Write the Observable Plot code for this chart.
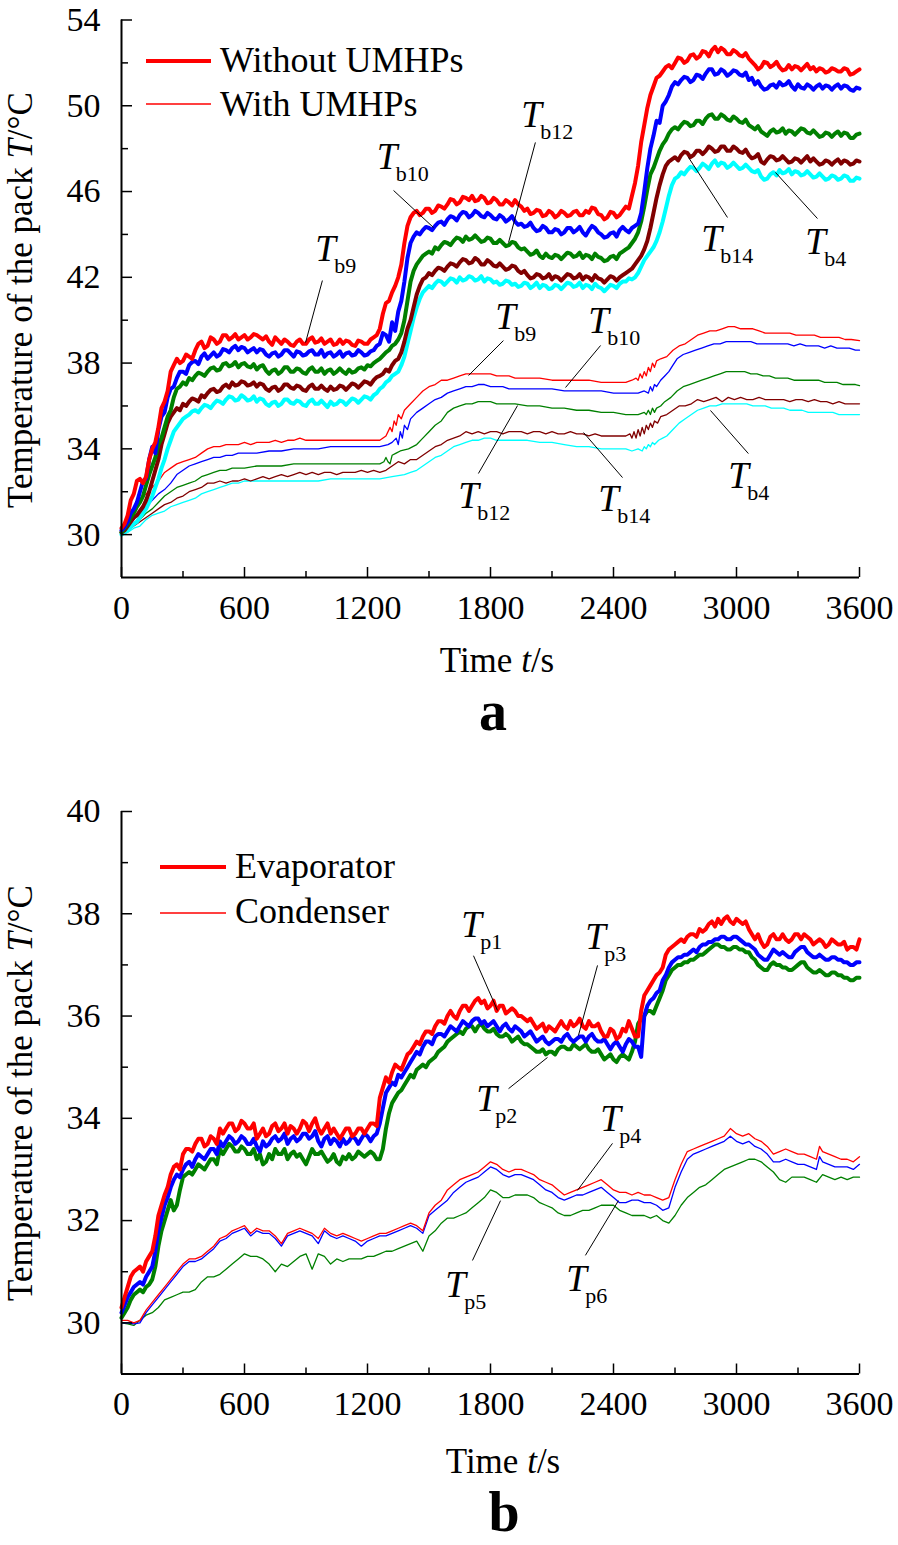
<!DOCTYPE html>
<html>
<head>
<meta charset="utf-8">
<script src="https://cdn.jsdelivr.net/npm/d3@7"></script>
<script src="https://cdn.jsdelivr.net/npm/@observablehq/plot@0.6"></script>
<style>
  body { margin: 0; background: #fff; }
  #root { position: relative; width: 898px; height: 1545px; overflow: hidden; }
  #root > svg { position: absolute; left: 0; }
  #root svg text { font-family: "Liberation Serif", "Times New Roman", Times, serif; }
</style>
</head>
<body>
<div id="root"></div>
<script>
// Thick series are sampled every 15 s (0 ... 3600 s); thin series are [t, T] pairs.
const t15 = d3.range(0, 3601, 15);

// ---------------- Panel a: without UMHPs (thick, 15 s) ----------------
const tb9Without = [30.3,30.5,30.9,31.6,31.9,32.5,32.6,32.4,32.7,33.5,34.0,34.3,35.0,35.9,36.2,36.7,37.6,37.9,38.2,38.0,
38.1,38.4,38.3,38.2,38.6,38.9,39.0,38.7,38.8,39.2,39.1,38.9,39.0,39.3,39.3,39.1,39.2,39.35,39.1,39.2,
39.3,39.1,39.2,39.35,39.3,39.2,39.1,39.25,39.0,38.85,39.2,39.05,38.9,39.1,39.0,38.85,38.8,39.0,39.1,38.9,
38.9,39.1,39.2,38.95,39.0,39.15,38.9,39.0,39.1,38.85,38.9,39.1,38.9,39.05,39.0,38.85,38.8,39.05,39.0,38.9,
38.9,39.1,39.2,39.3,39.6,40.3,40.8,40.9,41.3,41.6,42.0,42.6,43.6,44.4,44.8,45.0,45.1,44.9,45.0,45.2,
45.2,45.0,45.1,45.35,45.3,45.2,45.4,45.65,45.6,45.4,45.5,45.75,45.7,45.6,45.8,45.55,45.6,45.8,45.7,45.45,
45.5,45.7,45.6,45.4,45.4,45.6,45.5,45.35,45.6,45.4,45.3,45.1,45.2,44.95,45.0,45.15,45.1,44.85,44.9,45.1,
45.0,44.8,44.9,45.1,45.0,44.85,44.9,45.05,45.1,44.9,44.9,45.1,45.0,45.25,45.2,44.95,44.9,44.7,44.8,45.05,
45.0,44.8,44.9,45.1,45.3,45.2,45.8,46.4,47.2,48.3,49.1,49.9,50.5,50.9,51.3,51.4,51.6,51.8,51.9,51.75,
52.0,52.25,52.2,52.0,52.1,52.35,52.4,52.2,52.3,52.55,52.5,52.3,52.6,52.75,52.5,52.7,52.6,52.4,52.4,52.6,
52.5,52.35,52.3,52.45,52.2,52.05,51.9,51.7,51.8,52.05,52.0,51.8,51.9,52.05,51.8,51.65,51.7,51.9,51.7,51.85,
51.8,51.65,51.8,51.95,51.7,51.8,51.6,51.75,51.7,51.55,51.6,51.75,51.7,51.6,51.6,51.75,51.7,51.45,51.5,51.6,
51.7];
const tb10Without = [30.2,30.35,30.6,31.0,31.2,31.5,32.0,32.5,32.6,33.5,34.1,33.8,34.9,35.5,35.7,36.4,36.8,36.9,37.3,37.6,
37.6,37.5,37.9,38.05,38.1,37.95,38.3,38.45,38.2,38.35,38.5,38.3,38.4,38.65,38.6,38.5,38.7,38.8,38.6,38.75,
38.7,38.5,38.6,38.7,38.5,38.65,38.6,38.4,38.3,38.45,38.5,38.3,38.4,38.6,38.6,38.45,38.3,38.55,38.5,38.35,
38.4,38.55,38.6,38.4,38.4,38.6,38.3,38.45,38.5,38.3,38.4,38.55,38.3,38.45,38.5,38.35,38.4,38.6,38.5,38.35,
38.4,38.55,38.6,38.8,38.9,39.4,39.3,39.0,39.9,39.5,40.4,40.9,41.8,42.9,43.6,43.9,44.1,44.0,44.2,44.35,
44.3,44.2,44.4,44.55,44.6,44.45,44.7,44.85,44.8,44.65,44.9,45.05,45.0,44.8,44.9,45.1,45.0,44.85,44.8,45.0,
44.9,44.75,44.7,44.9,44.8,44.6,44.7,44.85,44.6,44.45,44.5,44.35,44.4,44.55,44.3,44.15,44.2,44.4,44.3,44.1,
44.1,44.25,44.2,44.0,44.1,44.3,44.3,44.1,44.2,44.35,44.1,43.95,44.2,44.4,44.3,44.1,44.0,43.85,43.9,44.05,
44.1,43.9,44.2,44.35,44.2,44.1,44.3,44.4,44.5,45.0,46.0,47.1,48.0,48.6,49.3,49.2,50.0,50.2,50.5,50.9,
51.1,51.0,51.2,51.35,51.3,51.1,51.2,51.45,51.4,51.25,51.5,51.7,51.7,51.45,51.5,51.7,51.6,51.4,51.5,51.65,
51.6,51.45,51.4,51.55,51.2,51.3,51.0,51.15,50.9,50.75,50.8,50.95,51.0,50.85,51.1,50.95,51.0,51.15,50.9,50.75,
51.0,50.85,50.8,51.0,50.9,50.75,50.9,51.0,50.8,50.95,50.9,50.75,50.9,51.0,50.8,50.95,50.9,50.75,50.7,50.85,
50.8];
const tb12Without = [30.1,30.3,30.5,30.8,31.0,31.3,31.5,31.8,32.3,32.8,33.2,33.6,34.2,34.5,35.0,35.5,35.8,36.4,36.8,36.9,
37.1,37.0,37.3,37.2,37.4,37.55,37.5,37.4,37.6,37.75,37.8,37.65,37.7,37.95,38.0,37.85,37.9,38.05,37.8,37.95,
38.0,37.85,37.8,37.95,37.7,37.85,37.9,37.65,37.5,37.65,37.7,37.5,37.6,37.8,37.8,37.6,37.6,37.75,37.7,37.55,
37.5,37.7,37.8,37.6,37.6,37.75,37.5,37.65,37.7,37.5,37.6,37.75,37.6,37.5,37.7,37.55,37.6,37.75,37.8,37.7,
37.9,37.85,38.0,38.1,38.2,38.35,38.5,38.6,38.8,38.9,39.1,39.4,40.0,40.9,41.8,42.3,42.6,42.8,43.0,43.1,
43.2,43.1,43.4,43.3,43.5,43.65,43.6,43.5,43.7,43.85,43.8,43.65,43.9,43.75,43.8,43.95,43.8,43.65,43.7,43.85,
43.8,43.6,43.6,43.75,43.6,43.45,43.5,43.65,43.6,43.4,43.3,43.35,43.2,43.05,43.1,43.25,43.0,42.9,43.1,42.95,
42.9,43.05,43.0,42.85,43.0,43.15,43.1,42.95,43.0,43.15,42.9,43.05,43.0,42.85,43.1,42.95,42.9,42.75,42.8,42.95,
43.0,42.85,43.1,43.2,43.3,43.4,43.6,43.8,44.1,44.6,45.3,46.1,46.8,47.1,47.5,47.9,48.2,48.4,48.7,48.9,
49.0,48.9,49.1,49.25,49.2,49.05,49.1,49.3,49.3,49.15,49.4,49.55,49.6,49.4,49.4,49.6,49.5,49.35,49.3,49.5,
49.4,49.25,49.2,49.35,49.1,49.0,48.9,49.05,48.8,48.7,48.6,48.8,48.9,48.75,48.8,48.95,48.7,48.85,48.8,48.65,
48.8,48.95,48.9,48.75,48.7,48.85,48.7,48.55,48.6,48.75,48.7,48.55,48.7,48.8,48.6,48.75,48.7,48.5,48.5,48.65,
48.7];
const tb14Without = [30.1,30.2,30.4,30.6,30.8,30.9,31.1,31.3,31.6,32.0,32.5,33.0,33.5,34.2,34.7,35.2,35.5,35.7,35.9,35.8,
36.1,36.0,36.2,36.35,36.3,36.2,36.5,36.4,36.6,36.75,36.8,36.65,36.7,36.9,37.0,36.85,37.1,36.95,37.0,37.15,
37.1,36.95,37.0,37.1,36.9,37.05,37.0,36.8,36.7,36.85,36.9,36.7,36.8,37.0,37.0,36.85,36.8,36.95,36.9,36.75,
36.7,36.9,37.0,36.8,36.8,36.95,36.8,36.7,36.9,36.75,36.8,36.95,36.9,36.75,36.9,37.05,37.0,36.85,37.0,37.15,
37.1,37.0,37.2,37.35,37.4,37.5,37.7,37.6,37.9,38.1,38.2,38.5,39.0,39.6,40.0,40.6,41.2,41.6,41.9,42.0,
42.2,42.1,42.3,42.45,42.4,42.3,42.5,42.65,42.6,42.5,42.7,42.85,42.8,42.65,42.7,42.9,42.8,42.6,42.6,42.8,
42.7,42.55,42.5,42.65,42.5,42.35,42.4,42.55,42.5,42.3,42.2,42.3,42.1,41.95,42.0,42.15,42.1,41.95,42.0,42.15,
41.9,42.05,42.0,41.85,42.0,42.15,42.1,41.95,42.0,42.15,41.9,42.05,42.0,41.85,42.1,41.95,41.9,41.75,41.9,42.05,
42.0,41.85,42.0,42.1,42.2,42.3,42.4,42.6,42.8,43.0,43.3,43.7,44.3,45.0,45.7,46.3,46.8,47.2,47.4,47.5,
47.6,47.45,47.7,47.85,47.8,47.6,47.7,47.9,47.9,47.75,47.9,48.1,48.0,47.85,47.9,48.1,48.1,47.9,47.9,48.1,
48.0,47.85,47.8,47.95,47.7,47.55,47.6,47.75,47.4,47.3,47.5,47.65,47.6,47.45,47.5,47.65,47.5,47.35,47.4,47.55,
47.5,47.35,47.5,47.65,47.4,47.55,47.4,47.25,47.3,47.45,47.4,47.25,47.4,47.5,47.3,47.45,47.4,47.25,47.3,47.45,
47.4];
const tb4Without = [30.0,30.1,30.2,30.35,30.5,30.6,30.8,31.0,31.2,31.5,31.8,32.2,32.6,33.1,33.5,34.0,34.4,34.8,35.0,35.2,
35.4,35.5,35.6,35.75,35.8,35.7,35.9,36.05,36.0,35.9,36.1,36.25,36.2,36.1,36.3,36.45,36.4,36.25,36.3,36.5,
36.4,36.25,36.3,36.45,36.2,36.35,36.3,36.1,36.0,36.15,36.2,36.0,36.1,36.3,36.3,36.15,36.1,36.25,36.2,36.05,
36.0,36.2,36.3,36.1,36.1,36.25,36.1,35.95,36.2,36.05,36.1,36.25,36.2,36.05,36.2,36.35,36.3,36.15,36.3,36.45,
36.4,36.3,36.5,36.6,36.8,36.9,37.1,37.2,37.4,37.5,37.6,37.9,38.3,38.9,39.5,40.1,40.6,41.0,41.3,41.45,
41.6,41.5,41.7,41.85,41.8,41.65,41.8,41.95,41.9,41.75,42.0,41.85,41.9,42.05,42.0,41.85,41.9,42.05,41.8,41.95,
41.9,41.75,41.8,41.65,41.7,41.85,41.8,41.65,41.7,41.55,41.6,41.75,41.7,41.5,41.6,41.75,41.5,41.65,41.6,41.45,
41.5,41.65,41.6,41.45,41.6,41.75,41.7,41.55,41.6,41.75,41.5,41.65,41.6,41.45,41.7,41.55,41.5,41.35,41.5,41.65,
41.6,41.5,41.7,41.8,41.8,41.95,41.9,42.0,42.2,42.5,42.8,43.0,43.2,43.4,43.7,44.1,44.6,45.2,45.8,46.3,
46.6,46.7,46.9,46.8,47.0,47.15,47.1,46.95,47.1,47.3,47.2,47.05,47.3,47.45,47.2,47.35,47.3,47.1,47.2,47.35,
47.2,47.05,47.1,47.25,47.1,46.95,46.9,47.0,46.7,46.55,46.6,46.8,46.9,46.75,47.0,46.85,46.9,47.05,46.8,46.95,
46.9,46.75,46.8,46.95,46.8,46.65,46.7,46.85,46.7,46.55,46.6,46.75,46.7,46.55,46.6,46.75,46.7,46.5,46.5,46.65,
46.6];

// ---------------- Panel a: with UMHPs (thin, [t, T]) ----------------
const tb9With = [[0,30.1],[30,30.6],[60,31.1],[90,31.6],[120,31.9],[150,32.2],[180,32.5],[210,32.9],[240,33.1],[270,33.3],[300,33.4],[330,33.5],[360,33.6],[390,33.8],[420,34.0],[450,34.1],[480,34.1],[510,34.2],[540,34.2],[570,34.2],[600,34.3],[630,34.2],[660,34.3],[690,34.3],[720,34.3],[750,34.4],[780,34.3],[810,34.4],[840,34.4],[870,34.5],[900,34.4],[930,34.4],[960,34.4],[1020,34.4],[1080,34.4],[1140,34.4],[1200,34.4],[1260,34.4],[1290,34.6],[1310,35.0],[1320,34.8],[1330,35.3],[1340,35.1],[1350,35.6],[1365,35.4],[1380,35.8],[1410,36.1],[1440,36.4],[1470,36.7],[1500,36.9],[1530,37.0],[1560,37.2],[1590,37.2],[1620,37.3],[1650,37.4],[1680,37.5],[1710,37.5],[1740,37.5],[1770,37.5],[1800,37.5],[1830,37.4],[1860,37.4],[1890,37.4],[1920,37.3],[1950,37.3],[1980,37.3],[2040,37.3],[2100,37.2],[2160,37.2],[2220,37.2],[2280,37.2],[2340,37.1],[2400,37.1],[2460,37.1],[2490,37.2],[2510,37.3],[2520,37.2],[2530,37.5],[2540,37.3],[2550,37.6],[2560,37.4],[2570,37.8],[2580,37.6],[2590,38.0],[2600,37.8],[2610,38.1],[2630,38.2],[2660,38.3],[2690,38.6],[2720,38.8],[2750,38.9],[2780,39.1],[2810,39.3],[2840,39.4],[2870,39.5],[2900,39.5],[2930,39.6],[2960,39.7],[2990,39.7],[3020,39.6],[3050,39.6],[3080,39.6],[3110,39.5],[3140,39.4],[3170,39.4],[3200,39.4],[3230,39.4],[3260,39.4],[3290,39.3],[3320,39.3],[3350,39.3],[3380,39.3],[3410,39.2],[3440,39.2],[3470,39.2],[3500,39.2],[3530,39.1],[3560,39.1],[3600,39.05]];
const tb10With = [[0,30.1],[30,30.4],[60,30.7],[90,31.0],[120,31.3],[150,31.6],[180,31.9],[210,32.1],[240,32.4],[270,32.8],[300,33.0],[330,33.2],[360,33.3],[390,33.4],[420,33.5],[450,33.6],[480,33.6],[510,33.7],[540,33.7],[570,33.8],[600,33.8],[660,33.8],[720,33.9],[780,33.9],[840,34.0],[900,34.0],[960,34.0],[1020,34.1],[1080,34.1],[1140,34.1],[1200,34.1],[1260,34.1],[1300,34.2],[1320,34.3],[1340,34.5],[1350,34.2],[1360,34.8],[1370,34.5],[1380,35.1],[1395,34.9],[1410,35.4],[1440,35.7],[1470,35.9],[1500,36.1],[1530,36.3],[1560,36.4],[1590,36.6],[1620,36.7],[1650,36.8],[1680,36.9],[1710,36.9],[1740,37.0],[1770,37.0],[1800,36.9],[1830,36.9],[1860,36.9],[1890,36.8],[1920,36.8],[1980,36.8],[2040,36.8],[2100,36.8],[2160,36.7],[2220,36.7],[2280,36.7],[2340,36.7],[2400,36.6],[2460,36.6],[2520,36.6],[2550,36.7],[2570,36.6],[2580,36.9],[2590,36.7],[2600,37.0],[2610,36.9],[2630,37.2],[2650,37.4],[2670,37.6],[2690,37.9],[2710,38.2],[2740,38.4],[2770,38.5],[2800,38.6],[2830,38.7],[2860,38.8],[2890,38.9],[2920,38.9],[2950,39.0],[2980,39.0],[3010,39.0],[3040,39.0],[3070,39.0],[3100,38.9],[3130,38.9],[3160,38.9],[3190,38.9],[3220,38.9],[3250,38.9],[3280,38.8],[3310,38.9],[3340,38.8],[3370,38.8],[3400,38.8],[3430,38.7],[3460,38.8],[3490,38.7],[3520,38.7],[3550,38.7],[3580,38.6],[3600,38.6]];
const tb12With = [[0,30.0],[30,30.2],[60,30.5],[90,30.7],[120,31.0],[150,31.2],[180,31.5],[210,31.8],[240,32.0],[270,32.2],[300,32.3],[330,32.4],[360,32.5],[390,32.7],[420,32.8],[450,32.9],[480,33.0],[510,33.0],[540,33.1],[600,33.1],[660,33.2],[720,33.2],[780,33.2],[840,33.3],[900,33.3],[960,33.3],[1020,33.3],[1080,33.3],[1140,33.3],[1200,33.3],[1260,33.3],[1280,33.4],[1290,33.6],[1300,33.4],[1310,33.3],[1320,33.7],[1340,33.8],[1360,33.9],[1400,34.0],[1440,34.2],[1470,34.5],[1500,34.8],[1530,35.1],[1560,35.3],[1590,35.7],[1620,35.9],[1650,36.0],[1680,36.1],[1710,36.1],[1740,36.2],[1770,36.2],[1800,36.2],[1830,36.1],[1860,36.1],[1890,36.1],[1920,36.1],[1980,36.0],[2040,36.0],[2100,35.9],[2160,35.9],[2220,35.8],[2280,35.8],[2340,35.7],[2400,35.7],[2460,35.6],[2520,35.6],[2550,35.7],[2560,35.6],[2570,35.8],[2580,35.6],[2590,35.9],[2600,35.7],[2610,35.9],[2630,36.0],[2650,36.2],[2680,36.4],[2710,36.7],[2740,36.9],[2770,37.0],[2800,37.1],[2830,37.2],[2860,37.3],[2890,37.4],[2920,37.5],[2950,37.6],[2980,37.6],[3010,37.6],[3040,37.6],[3070,37.5],[3100,37.5],[3130,37.4],[3160,37.4],[3190,37.3],[3220,37.3],[3250,37.3],[3280,37.2],[3310,37.2],[3340,37.2],[3370,37.2],[3400,37.2],[3430,37.1],[3460,37.1],[3490,37.1],[3520,37.0],[3550,37.0],[3580,37.0],[3600,36.95]];
const tb14With = [[0,30.1],[30,30.2],[60,30.4],[90,30.6],[120,30.8],[150,31.0],[180,31.2],[210,31.4],[240,31.5],[270,31.7],[300,31.8],[330,32.0],[360,32.1],[390,32.2],[420,32.4],[450,32.4],[480,32.5],[510,32.4],[540,32.5],[570,32.5],[600,32.6],[630,32.5],[660,32.6],[690,32.7],[720,32.6],[750,32.7],[780,32.8],[810,32.7],[840,32.8],[870,32.9],[900,32.8],[930,32.9],[960,32.8],[990,32.9],[1020,32.9],[1050,32.8],[1080,32.9],[1110,32.9],[1140,32.9],[1170,33.0],[1200,32.9],[1230,33.0],[1260,32.9],[1290,33.0],[1320,33.2],[1350,33.4],[1380,33.3],[1410,33.5],[1440,33.5],[1470,33.7],[1500,33.9],[1530,34.1],[1560,34.2],[1590,34.4],[1620,34.5],[1650,34.6],[1680,34.8],[1710,34.7],[1740,34.8],[1770,34.7],[1800,34.8],[1830,34.8],[1860,34.7],[1890,34.8],[1920,34.8],[1950,34.8],[1980,34.7],[2010,34.8],[2040,34.8],[2070,34.7],[2100,34.8],[2130,34.7],[2160,34.7],[2190,34.8],[2220,34.7],[2250,34.7],[2280,34.6],[2310,34.7],[2340,34.6],[2370,34.6],[2400,34.6],[2430,34.6],[2460,34.6],[2480,34.7],[2490,34.5],[2500,34.8],[2510,34.5],[2520,34.9],[2530,34.6],[2540,35.0],[2550,34.7],[2560,35.1],[2570,34.9],[2580,35.2],[2590,35.0],[2600,35.3],[2615,35.2],[2630,35.5],[2660,35.6],[2690,35.8],[2720,36.0],[2750,36.0],[2780,36.1],[2810,36.3],[2840,36.2],[2870,36.3],[2900,36.4],[2930,36.2],[2960,36.4],[2990,36.3],[3020,36.4],[3050,36.3],[3080,36.3],[3110,36.4],[3140,36.3],[3170,36.3],[3200,36.3],[3230,36.3],[3260,36.2],[3290,36.3],[3320,36.3],[3350,36.2],[3380,36.3],[3410,36.2],[3440,36.2],[3470,36.1],[3500,36.2],[3530,36.1],[3560,36.1],[3600,36.1]];
const tb4With = [[0,30.0],[30,30.1],[60,30.3],[90,30.4],[120,30.7],[150,30.9],[180,31.0],[210,31.1],[240,31.3],[270,31.4],[300,31.5],[330,31.6],[360,31.7],[390,31.9],[420,32.0],[450,32.1],[480,32.2],[510,32.3],[540,32.4],[570,32.4],[600,32.5],[660,32.5],[720,32.5],[780,32.5],[840,32.5],[900,32.5],[960,32.5],[1020,32.6],[1080,32.6],[1140,32.6],[1200,32.6],[1260,32.6],[1320,32.7],[1380,32.8],[1410,32.9],[1440,33.0],[1470,33.2],[1500,33.4],[1530,33.6],[1560,33.7],[1590,33.9],[1620,34.1],[1650,34.2],[1680,34.3],[1710,34.4],[1740,34.4],[1770,34.5],[1800,34.5],[1830,34.4],[1860,34.4],[1890,34.4],[1920,34.4],[1950,34.4],[1980,34.4],[2040,34.3],[2100,34.3],[2160,34.2],[2220,34.1],[2280,34.1],[2340,34.0],[2400,34.0],[2460,34.0],[2490,33.9],[2520,34.0],[2540,33.9],[2550,34.1],[2560,34.0],[2570,34.2],[2580,34.1],[2590,34.3],[2600,34.2],[2620,34.4],[2640,34.5],[2660,34.6],[2690,34.9],[2720,35.2],[2750,35.4],[2780,35.6],[2810,35.8],[2840,35.9],[2870,36.0],[2900,36.0],[2930,36.1],[2960,36.1],[2990,36.1],[3020,36.1],[3050,36.1],[3080,36.0],[3110,36.0],[3140,36.0],[3170,35.9],[3200,35.9],[3230,35.9],[3260,35.8],[3290,35.8],[3320,35.8],[3350,35.7],[3380,35.7],[3410,35.7],[3440,35.7],[3470,35.7],[3500,35.6],[3530,35.6],[3560,35.6],[3600,35.6]];

// ---------------- Panel b: evaporator (thick, 15 s) ----------------
const tp1Evap = [30.3,30.5,30.7,30.9,31.0,31.05,31.1,31.0,31.2,31.3,31.4,31.7,32.1,32.3,32.5,32.65,32.9,33.05,33.1,33.0,
33.3,33.4,33.4,33.35,33.5,33.6,33.6,33.45,33.5,33.65,33.6,33.5,33.8,33.7,33.8,33.9,33.9,33.75,33.8,33.95,
33.9,33.8,33.8,33.9,33.6,33.7,33.8,33.65,33.7,33.85,33.9,33.75,33.8,33.9,33.7,33.85,33.8,33.7,33.8,33.95,
33.9,33.75,33.9,34.0,33.8,33.7,33.8,33.9,33.7,33.8,33.7,33.6,33.7,33.8,33.8,33.65,33.7,33.8,33.8,33.7,
33.8,33.9,33.9,33.85,34.4,34.6,34.8,34.7,34.9,35.05,35.0,34.95,35.1,35.25,35.3,35.4,35.5,35.45,35.6,35.7,
35.7,35.65,35.8,35.9,35.9,35.85,36.0,36.1,36.0,35.95,36.1,36.2,36.2,36.1,36.2,36.3,36.35,36.25,36.3,36.15,
36.2,36.3,36.1,36.2,36.2,36.05,36.1,36.15,36.1,36.0,36.0,35.95,35.9,35.95,35.85,35.75,35.8,35.85,35.7,35.8,
35.75,35.7,35.8,35.9,35.8,35.75,35.9,35.8,35.85,35.95,35.8,35.75,35.9,35.8,35.8,35.85,35.7,35.6,35.6,35.75,
35.7,35.55,35.6,35.75,35.7,35.9,35.75,35.6,35.6,36.1,36.4,36.5,36.6,36.7,36.8,36.85,36.95,37.2,37.3,37.35,
37.4,37.45,37.5,37.45,37.55,37.6,37.6,37.55,37.7,37.65,37.7,37.8,37.85,37.75,37.9,37.8,37.9,37.95,37.85,37.8,
37.9,37.85,37.8,37.85,37.7,37.6,37.5,37.6,37.45,37.35,37.4,37.55,37.6,37.5,37.5,37.6,37.5,37.45,37.5,37.6,
37.6,37.5,37.6,37.55,37.5,37.4,37.45,37.5,37.45,37.35,37.4,37.5,37.45,37.4,37.4,37.45,37.3,37.35,37.35,37.3,
37.5];
const tp3Evap = [30.2,30.35,30.5,30.6,30.7,30.75,30.8,30.75,30.9,31.0,31.1,31.4,31.8,32.05,32.3,32.45,32.65,32.8,32.9,32.85,
33.0,33.1,33.15,33.05,33.2,33.3,33.25,33.2,33.3,33.4,33.4,33.3,33.55,33.45,33.55,33.65,33.6,33.5,33.55,33.65,
33.6,33.5,33.5,33.6,33.45,33.35,33.55,33.45,33.5,33.6,33.65,33.55,33.6,33.7,33.5,33.6,33.65,33.55,33.6,33.7,
33.7,33.6,33.65,33.75,33.55,33.45,33.6,33.65,33.5,33.6,33.55,33.45,33.6,33.5,33.55,33.65,33.6,33.5,33.6,33.7,
33.65,33.55,33.65,33.7,33.9,34.2,34.5,34.6,34.7,34.65,34.85,34.8,34.9,35.0,35.1,35.2,35.3,35.25,35.4,35.5,
35.5,35.45,35.6,35.65,35.65,35.6,35.7,35.8,35.75,35.7,35.8,35.9,35.85,35.8,35.9,35.95,35.95,35.85,35.9,35.8,
35.85,35.9,35.8,35.7,35.8,35.85,35.75,35.7,35.8,35.75,35.7,35.6,35.65,35.7,35.6,35.5,35.55,35.6,35.5,35.45,
35.5,35.55,35.55,35.5,35.6,35.65,35.55,35.5,35.55,35.6,35.6,35.5,35.6,35.65,35.55,35.5,35.5,35.55,35.45,35.35,
35.45,35.5,35.4,35.3,35.45,35.55,35.5,35.4,35.4,35.2,36.0,36.2,36.3,36.35,36.45,36.5,36.7,36.8,36.95,37.05,
37.1,37.15,37.15,37.2,37.2,37.25,37.3,37.25,37.35,37.4,37.4,37.45,37.45,37.5,37.5,37.55,37.55,37.5,37.5,37.55,
37.55,37.5,37.45,37.4,37.4,37.35,37.3,37.2,37.15,37.1,37.1,37.2,37.3,37.25,37.2,37.25,37.2,37.15,37.15,37.25,
37.3,37.35,37.35,37.25,37.2,37.15,37.15,37.2,37.15,37.1,37.1,37.15,37.15,37.1,37.1,37.05,37.05,37.0,37.0,37.05,
37.05];
const tp2Evap = [30.1,30.2,30.3,30.45,30.55,30.6,30.65,30.6,30.7,30.75,30.85,31.1,31.5,31.8,32.0,32.2,32.4,32.2,32.3,32.6,
32.85,32.9,32.95,32.9,33.0,33.1,33.05,33.0,33.1,33.2,33.2,33.1,33.4,33.3,33.4,33.5,33.45,33.35,33.35,33.45,
33.4,33.3,33.3,33.4,33.2,33.3,33.1,33.15,33.3,33.2,33.4,33.3,33.3,33.4,33.2,33.3,33.35,33.25,33.3,33.2,
33.1,33.25,33.4,33.3,33.3,33.35,33.25,33.15,33.2,33.3,33.15,33.1,33.25,33.2,33.3,33.2,33.25,33.35,33.3,33.25,
33.3,33.35,33.3,33.2,33.2,33.4,33.8,34.1,34.3,34.4,34.5,34.55,34.65,34.75,34.85,34.8,34.95,35.0,35.05,35.0,
35.1,35.15,35.2,35.3,35.35,35.4,35.5,35.55,35.6,35.65,35.7,35.65,35.75,35.8,35.8,35.7,35.8,35.85,35.75,35.7,
35.7,35.75,35.65,35.6,35.6,35.65,35.6,35.5,35.55,35.6,35.5,35.45,35.45,35.4,35.35,35.3,35.3,35.35,35.25,35.3,
35.3,35.25,35.35,35.4,35.4,35.35,35.35,35.45,35.4,35.35,35.4,35.45,35.35,35.3,35.3,35.35,35.25,35.15,35.2,35.25,
35.15,35.1,35.2,35.25,35.2,35.15,35.3,35.5,35.85,35.95,36.0,36.1,36.1,36.05,36.2,36.35,36.5,36.7,36.8,36.9,
36.95,37.0,37.0,37.05,37.05,37.1,37.1,37.15,37.2,37.2,37.25,37.3,37.35,37.4,37.4,37.35,37.35,37.3,37.3,37.35,
37.35,37.3,37.3,37.25,37.25,37.15,37.1,37.0,36.95,36.9,36.9,37.0,37.05,37.0,37.0,36.95,36.95,36.9,36.9,36.95,
37.0,37.05,37.05,36.95,36.9,36.85,36.85,36.9,36.85,36.8,36.8,36.85,36.85,36.8,36.8,36.75,36.75,36.7,36.7,36.75,
36.75];

// ---------------- Panel b: condenser (thin, [t, T]) ----------------
const tp4Cond = [[0,30.05],[30,30.05],[60,30.0],[90,30.05],[120,30.25],[150,30.4],[180,30.55],[210,30.7],[240,30.85],[270,31.0],[300,31.15],[330,31.25],[360,31.25],[390,31.3],[420,31.4],[450,31.5],[480,31.65],[510,31.7],[540,31.8],[570,31.85],[600,31.9],[630,31.75],[660,31.85],[690,31.8],[720,31.8],[750,31.7],[780,31.55],[810,31.75],[840,31.8],[870,31.85],[900,31.8],[930,31.75],[960,31.65],[990,31.85],[1020,31.75],[1050,31.7],[1080,31.75],[1110,31.7],[1140,31.65],[1170,31.6],[1200,31.65],[1230,31.7],[1260,31.75],[1290,31.75],[1320,31.8],[1350,31.85],[1380,31.9],[1410,31.95],[1440,31.9],[1470,31.8],[1500,32.15],[1530,32.3],[1560,32.4],[1590,32.6],[1620,32.7],[1650,32.8],[1680,32.85],[1710,32.9],[1740,32.95],[1770,33.05],[1800,33.15],[1830,33.1],[1860,33.0],[1890,32.95],[1920,33.0],[1950,33.0],[1980,32.95],[2010,32.9],[2040,32.8],[2070,32.75],[2100,32.7],[2130,32.6],[2160,32.5],[2190,32.55],[2220,32.6],[2250,32.65],[2280,32.7],[2310,32.75],[2340,32.8],[2370,32.7],[2400,32.6],[2430,32.55],[2460,32.55],[2490,32.5],[2520,32.55],[2550,32.5],[2580,32.5],[2610,32.45],[2640,32.4],[2670,32.45],[2700,32.8],[2730,33.1],[2760,33.35],[2790,33.4],[2820,33.45],[2850,33.5],[2880,33.55],[2910,33.6],[2940,33.65],[2970,33.8],[3000,33.7],[3030,33.65],[3060,33.7],[3090,33.6],[3120,33.55],[3150,33.45],[3180,33.3],[3210,33.35],[3240,33.4],[3270,33.35],[3300,33.3],[3330,33.3],[3360,33.25],[3390,33.2],[3405,33.45],[3420,33.35],[3450,33.3],[3480,33.25],[3510,33.2],[3540,33.2],[3570,33.15],[3600,33.25]];
const tp6Cond = [[0,30.0],[30,30.0],[60,29.98],[90,30.0],[120,30.2],[150,30.35],[180,30.5],[210,30.65],[240,30.8],[270,30.95],[300,31.1],[330,31.2],[360,31.2],[390,31.25],[420,31.35],[450,31.45],[480,31.6],[510,31.65],[540,31.75],[570,31.8],[600,31.85],[630,31.7],[660,31.8],[690,31.75],[720,31.75],[750,31.65],[780,31.5],[810,31.7],[840,31.75],[870,31.8],[900,31.75],[930,31.7],[960,31.55],[990,31.8],[1020,31.7],[1050,31.65],[1080,31.7],[1110,31.65],[1140,31.6],[1170,31.5],[1200,31.6],[1230,31.65],[1260,31.7],[1290,31.7],[1320,31.75],[1350,31.8],[1380,31.85],[1410,31.9],[1440,31.85],[1470,31.75],[1500,32.1],[1530,32.2],[1560,32.3],[1590,32.4],[1620,32.55],[1650,32.65],[1680,32.75],[1710,32.8],[1740,32.85],[1770,32.95],[1800,33.05],[1830,33.0],[1860,32.9],[1890,32.85],[1920,32.9],[1950,32.9],[1980,32.85],[2010,32.8],[2040,32.7],[2070,32.6],[2100,32.55],[2130,32.45],[2160,32.4],[2190,32.45],[2220,32.5],[2250,32.5],[2280,32.55],[2310,32.6],[2340,32.65],[2370,32.55],[2400,32.45],[2430,32.35],[2460,32.35],[2490,32.4],[2520,32.4],[2550,32.35],[2580,32.35],[2610,32.3],[2640,32.2],[2670,32.25],[2700,32.65],[2730,32.95],[2760,33.2],[2790,33.3],[2820,33.35],[2850,33.4],[2880,33.45],[2910,33.5],[2940,33.55],[2970,33.65],[3000,33.55],[3030,33.5],[3060,33.55],[3090,33.45],[3120,33.4],[3150,33.3],[3180,33.15],[3210,33.15],[3240,33.2],[3270,33.15],[3300,33.1],[3330,33.1],[3360,33.05],[3390,33.0],[3405,33.25],[3420,33.15],[3450,33.1],[3480,33.05],[3510,33.05],[3540,33.05],[3570,33.0],[3600,33.1]];
const tp5Cond = [[0,30.0],[30,29.98],[60,29.95],[90,30.05],[120,30.15],[150,30.2],[180,30.3],[210,30.45],[240,30.5],[270,30.55],[300,30.6],[330,30.6],[360,30.65],[390,30.8],[420,30.9],[450,30.9],[480,30.95],[510,31.05],[540,31.15],[570,31.25],[600,31.35],[630,31.3],[660,31.3],[690,31.25],[720,31.15],[750,31.0],[780,31.15],[810,31.1],[840,31.2],[870,31.3],[900,31.35],[930,31.05],[960,31.35],[990,31.3],[1020,31.15],[1050,31.25],[1080,31.2],[1110,31.25],[1140,31.25],[1170,31.25],[1200,31.3],[1230,31.3],[1260,31.35],[1290,31.4],[1320,31.4],[1350,31.45],[1380,31.5],[1410,31.55],[1440,31.6],[1470,31.4],[1500,31.7],[1530,31.8],[1560,31.95],[1590,32.05],[1620,32.05],[1650,32.1],[1680,32.15],[1710,32.25],[1740,32.35],[1770,32.45],[1800,32.6],[1830,32.55],[1860,32.45],[1890,32.45],[1920,32.5],[1950,32.5],[1980,32.5],[2010,32.45],[2040,32.35],[2070,32.3],[2100,32.25],[2130,32.15],[2160,32.1],[2190,32.1],[2220,32.15],[2250,32.2],[2280,32.2],[2310,32.25],[2340,32.3],[2370,32.3],[2400,32.3],[2430,32.2],[2460,32.15],[2490,32.1],[2520,32.1],[2550,32.1],[2580,32.05],[2610,32.1],[2640,32.0],[2670,31.95],[2700,32.1],[2730,32.3],[2760,32.45],[2790,32.55],[2820,32.65],[2850,32.7],[2880,32.8],[2910,32.9],[2940,33.0],[2970,33.05],[3000,33.1],[3030,33.15],[3060,33.2],[3090,33.2],[3120,33.15],[3150,33.05],[3180,32.95],[3210,32.8],[3240,32.75],[3270,32.85],[3300,32.85],[3330,32.85],[3360,32.8],[3390,32.75],[3420,32.9],[3450,32.85],[3480,32.8],[3510,32.85],[3540,32.8],[3570,32.85],[3600,32.85]];

// ---------------- ticks ----------------
const xMajor = [0, 600, 1200, 1800, 2400, 3000, 3600];
const xMinor = [300, 900, 1500, 2100, 2700, 3300];
const yMajorA = [30, 34, 38, 42, 46, 50, 54];
const yMinorA = [32, 36, 40, 44, 48, 52];
const yMajorB = [30, 32, 34, 36, 38, 40];
const yMinorB = [31, 33, 35, 37, 39];

// ---------------- annotations (label anchor in data units) ----------------
const labelsA = [
  {t: 945, T: 42.78, sub: "b9"}, {t: 1245, T: 47.07, sub: "b10"}, {t: 1950, T: 48.99, sub: "b12"},
  {t: 2828, T: 43.25, sub: "b14"}, {t: 3335, T: 43.11, sub: "b4"},
  {t: 1823, T: 39.61, sub: "b9"}, {t: 2277, T: 39.38, sub: "b10"}, {t: 1643, T: 31.26, sub: "b12"},
  {t: 2326, T: 31.12, sub: "b14"}, {t: 2960, T: 32.19, sub: "b4"}
];
const leadersA = [
  {t1: 980, T1: 41.85, t2: 898, T2: 38.96}, {t1: 1327, T1: 46.05, t2: 1522, T2: 44.32},
  {t1: 2019, T1: 48.29, t2: 1888, T2: 43.62}, {t1: 2956, T1: 44.79, t2: 2766, T2: 47.59},
  {t1: 3395, T1: 44.74, t2: 3190, T2: 46.89}, {t1: 1863, T1: 39.05, t2: 1693, T2: 37.42},
  {t1: 2337, T1: 38.82, t2: 2166, T2: 36.86}, {t1: 1741, T1: 32.85, t2: 1932, T2: 36.02},
  {t1: 2444, T1: 32.66, t2: 2254, T2: 34.76}, {t1: 3058, T1: 33.78, t2: 2873, T2: 35.79}
];
const labelsB = [
  {t: 1657, T: 37.54, sub: "p1"}, {t: 2262, T: 37.32, sub: "p3"}, {t: 1730, T: 34.15, sub: "p2"},
  {t: 2335, T: 33.76, sub: "p4"}, {t: 1579, T: 30.50, sub: "p5"}, {t: 2169, T: 30.63, sub: "p6"}
];
const leadersB = [
  {t1: 1717, T1: 37.18, t2: 1834, T2: 36.11}, {t1: 2322, T1: 36.99, t2: 2229, T2: 35.62},
  {t1: 1888, T1: 34.58, t2: 2078, T2: 35.19}, {t1: 2395, T1: 33.51, t2: 2224, T2: 32.59},
  {t1: 1712, T1: 31.22, t2: 1849, T2: 32.39}, {t1: 2263, T1: 31.32, t2: 2424, T2: 32.39}
];

// ---------------- series tables ----------------
const RED = "#ff0000", BLUE = "#0000ff", GREEN = "#008000", DARKRED = "#800000", CYAN = "#00ffff";
const FONT = '"Liberation Serif", "Times New Roman", Times, serif';
const on15 = values => values.slice(0, t15.length).map((T, i) => [t15[i], T]);
function rows(list) {
  return list.flatMap(([id, color, data]) => data.map(([t, T]) => ({id, color, t, T})));
}
const thickA = rows([["Tb4", CYAN, on15(tb4Without)], ["Tb14", DARKRED, on15(tb14Without)], ["Tb12", GREEN, on15(tb12Without)], ["Tb10", BLUE, on15(tb10Without)], ["Tb9", RED, on15(tb9Without)]]);
const thinA = rows([["Tb4w", CYAN, tb4With], ["Tb14w", DARKRED, tb14With], ["Tb12w", GREEN, tb12With], ["Tb10w", BLUE, tb10With], ["Tb9w", RED, tb9With]]);
const thickB = rows([["Tp2", GREEN, on15(tp2Evap)], ["Tp3", BLUE, on15(tp3Evap)], ["Tp1", RED, on15(tp1Evap)]]);
const thinB = rows([["Tp5", GREEN, tp5Cond], ["Tp6", BLUE, tp6Cond], ["Tp4", RED, tp4Cond]]);

function panel({thick, thin, yDomain, yMajor, yMinor, height, marginTop, marginBottom, labels, leaders}) {
  const frameW = 898 - 121 - 39;
  const frameH = height - marginTop - marginBottom;
  return Plot.plot({
    width: 898, height, marginLeft: 121, marginRight: 39, marginTop, marginBottom,
    style: {fontFamily: FONT, fontSize: "34px", color: "#000", background: "transparent", overflow: "visible"},
    x: {domain: [0, 3600]},
    y: {domain: yDomain},
    color: {type: "identity"},
    marks: [
      Plot.line(thin, {x: "t", y: "T", z: "id", stroke: "color", strokeWidth: 1.3}),
      Plot.line(thick, {x: "t", y: "T", z: "id", stroke: "color", strokeWidth: 4, strokeLinejoin: "round"}),
      Plot.link(leaders, {x1: "t1", y1: "T1", x2: "t2", y2: "T2", stroke: "#000", strokeWidth: 1}),
      Plot.text(labels, {x: "t", y: "T", text: () => "T", fontStyle: "italic", fontSize: 37, textAnchor: "start", lineAnchor: "bottom", fill: "#000"}),
      Plot.text(labels, {x: "t", y: "T", text: "sub", fontSize: 22, textAnchor: "start", lineAnchor: "bottom", dx: 19, dy: 12, fill: "#000"}),
      Plot.ruleX([0], {stroke: "#000", strokeWidth: 2}),
      Plot.ruleY([yDomain[0]], {stroke: "#000", strokeWidth: 2}),
      Plot.tickY(yMajor, {y: d => d, insetRight: frameW - 11, stroke: "#000", strokeWidth: 1.5}),
      Plot.tickY(yMinor, {y: d => d, insetRight: frameW - 7, stroke: "#000", strokeWidth: 1.5}),
      Plot.tickX(xMajor, {x: d => d, insetTop: frameH - 10, stroke: "#000", strokeWidth: 1.5}),
      Plot.tickX(xMinor, {x: d => d, insetTop: frameH - 6, stroke: "#000", strokeWidth: 1.5}),
      Plot.axisY({ticks: yMajor, tickSize: 0, tickPadding: 21, label: null, tickFormat: d => String(d), fontSize: 34}),
      Plot.axisX({ticks: xMajor, tickSize: 0, tickPadding: 17, label: null, tickFormat: d => String(d), fontSize: 34})
    ]
  });
}

const root = document.getElementById("root");
const plotA = panel({thick: thickA, thin: thinA, yDomain: [28, 54], yMajor: yMajorA, yMinor: yMinorA,
  height: 640, marginTop: 19.5, marginBottom: 63, labels: labelsA, leaders: leadersA});
plotA.style.top = "0px";
root.appendChild(plotA);

const plotB = panel({thick: thickB, thin: thinB, yDomain: [29, 40], yMajor: yMajorB, yMinor: yMinorB,
  height: 640, marginTop: 31, marginBottom: 46.5, labels: labelsB, leaders: leadersB});
plotB.style.top = "780px";
root.appendChild(plotB);

// ---------------- titles, legends, panel letters ----------------
const ov = d3.select(root).append("svg")
  .attr("width", 898).attr("height", 1545)
  .style("top", "0px").style("pointer-events", "none")
  .attr("font-family", FONT).attr("fill", "#000");

function yTitle(cy) {
  const t = ov.append("text").attr("transform", `translate(32,${cy}) rotate(-90)`)
    .attr("text-anchor", "middle").attr("font-size", 35);
  t.append("tspan").text("Temperature of the pack ");
  t.append("tspan").attr("font-style", "italic").text("T");
  t.append("tspan").text("/°C");
}
function xTitle(cx, by) {
  const t = ov.append("text").attr("x", cx).attr("y", by).attr("text-anchor", "middle").attr("font-size", 35);
  t.append("tspan").text("Time ");
  t.append("tspan").attr("font-style", "italic").text("t");
  t.append("tspan").text("/s");
}
function legendItem(x1, x2, y, w, label, tx, by) {
  ov.append("line").attr("x1", x1).attr("x2", x2).attr("y1", y).attr("y2", y)
    .attr("stroke", RED).attr("stroke-width", w);
  ov.append("text").attr("x", tx).attr("y", by).attr("font-size", 36).text(label);
}
yTitle(300);
yTitle(1093);
xTitle(497, 672);
xTitle(503, 1473);
ov.append("text").attr("x", 493).attr("y", 730).attr("text-anchor", "middle").attr("font-size", 56).attr("font-weight", "bold").text("a");
ov.append("text").attr("x", 504).attr("y", 1531).attr("text-anchor", "middle").attr("font-size", 56).attr("font-weight", "bold").text("b");
legendItem(146, 211, 61, 4, "Without UMHPs", 220, 72);
legendItem(146, 211, 104, 1.3, "With UMHPs", 220, 116);
legendItem(160, 226, 867, 4, "Evaporator", 235, 878);
legendItem(160, 226, 913, 1.3, "Condenser", 235, 923);
</script>
</body>
</html>
